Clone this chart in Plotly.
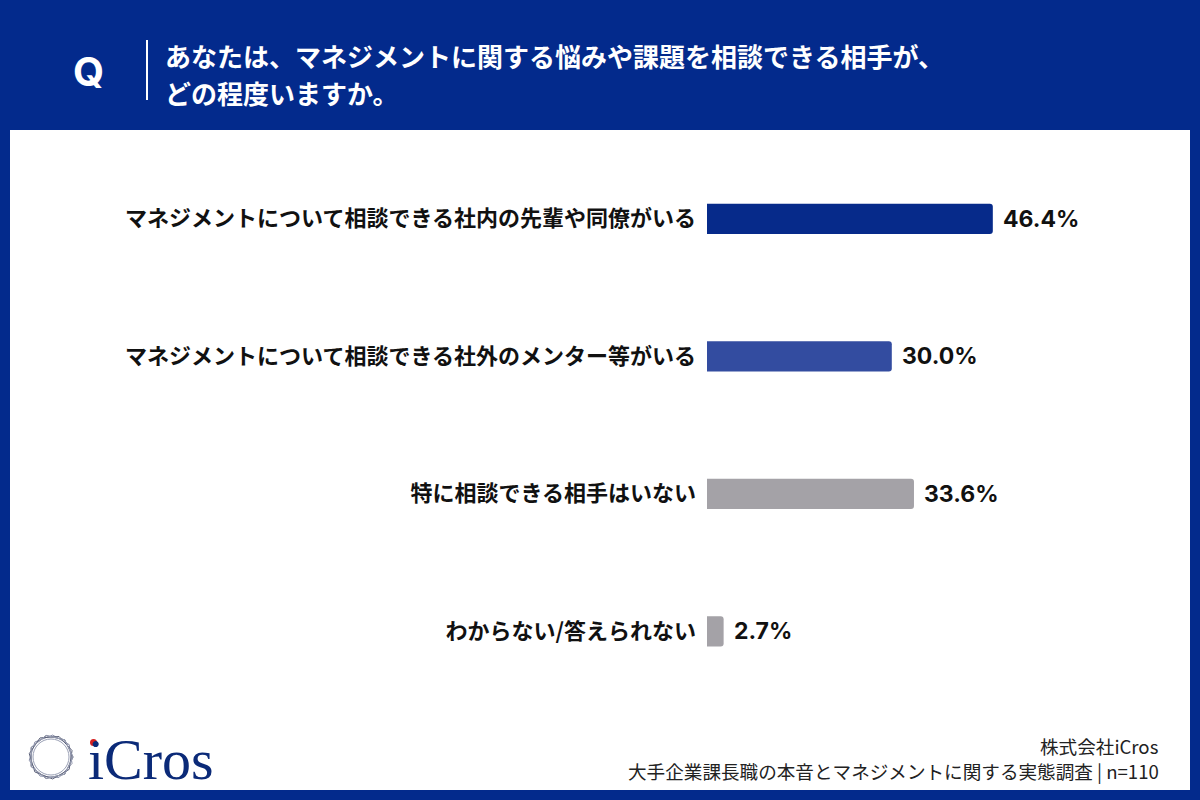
import plotly.graph_objects as go
import math

categories = [
    "マネジメントについて相談できる社内の先輩や同僚がいる",
    "マネジメントについて相談できる社外のメンター等がいる",
    "特に相談できる相手はいない",
    "わからない/答えられない",
]
values = [46.4, 30.0, 33.6, 2.7]
bar_colors = ["#062a8a", "#334ca0", "#a4a2a7", "#a4a2a7"]
value_labels = ["46.4%", "30.0%", "33.6%", "2.7%"]

question_lines = ["あなたは、マネジメントに関する悩みや課題を相談できる相手が、", "どの程度いますか。"]
source_lines = ["株式会社iCros", "大手企業課長職の本音とマネジメントに関する実態調査 | n=110"]

NAVY = "#032a8c"
W, H = 1200, 800
L, R, T, B = 707, 123, 150, 100
PW, PH = W - L - R, H - T - B


def px(x):
    return (x - L) / PW


def py(y):
    return (H - B - y) / PH


JP = "Noto Sans CJK JP"

fig = go.Figure()
fig.add_trace(go.Bar(
    y=categories,
    x=values,
    orientation="h",
    marker=dict(color=bar_colors, cornerradius=3, line=dict(width=0)),
    width=0.22,
    cliponaxis=False,
    hoverinfo="skip",
))

shapes = []
shapes.append(dict(type="rect", xref="paper", yref="paper",
                   x0=px(10), x1=px(1190), y0=py(790), y1=py(130),
                   fillcolor="white", line=dict(width=0), layer="below"))
shapes.append(dict(type="line", xref="paper", yref="paper",
                   x0=px(147), x1=px(147), y0=py(100), y1=py(40),
                   line=dict(color="white", width=2)))
cx, cy, rad = 51, 757, 22
for k, rot in enumerate([0, 0.3, 0.6, 0.9]):
    pts = []
    for i in range(7):
        a = rot + 2 * math.pi * i / 7
        pts.append((cx + rad * math.cos(a), cy + rad * math.sin(a)))
    path = "M " + " L ".join(f"{px(x):.5f},{py(y):.5f}" for x, y in pts) + " Z"
    shapes.append(dict(type="path", xref="paper", yref="paper", path=path,
                       line=dict(color=["#4a4f63", "#8a8fa8", "#5a6078", "#9aa0b5"][k], width=1)))
shapes.append(dict(type="circle", xref="paper", yref="paper",
                   x0=px(cx - 18), x1=px(cx + 18), y0=py(cy + 18), y1=py(cy - 18),
                   line=dict(color="#9aa0b5", width=1)))
shapes.append(dict(type="circle", xref="paper", yref="paper",
                   x0=px(90), x1=px(97), y0=py(746), y1=py(739),
                   fillcolor="#d42020", line=dict(width=0)))

annotations = [
    dict(text="<b>Q</b>", x=px(88), y=py(72), xref="paper", yref="paper",
         showarrow=False, xanchor="center", yanchor="middle",
         font=dict(family="Inter, Arial, sans-serif", size=40, color="white")),
    dict(text=question_lines[0], x=px(163), y=py(55), xref="paper", yref="paper",
         showarrow=False, xanchor="left", yanchor="middle",
         font=dict(family=JP, size=26, color="white", weight="bold")),
    dict(text=question_lines[1], x=px(163), y=py(92), xref="paper", yref="paper",
         showarrow=False, xanchor="left", yanchor="middle",
         font=dict(family=JP, size=26, color="white", weight="bold")),
    dict(text="iCros", x=px(86), y=py(759), xref="paper", yref="paper",
         showarrow=False, xanchor="left", yanchor="middle",
         font=dict(family="Liberation Serif, DejaVu Serif, serif", size=58, color="#0b2a78")),
    dict(text=source_lines[0], x=px(1161), y=py(745), xref="paper", yref="paper",
         showarrow=False, xanchor="right", yanchor="middle",
         font=dict(family=JP, size=18.6, color="#222222")),
    dict(text=source_lines[1], x=px(1161), y=py(770), xref="paper", yref="paper",
         showarrow=False, xanchor="right", yanchor="middle",
         font=dict(family=JP, size=18.6, color="#222222")),
]
for cat, v, lab in zip(categories, values, value_labels):
    annotations.append(dict(text=lab, x=v, y=cat, xref="x", yref="y",
                            showarrow=False, xanchor="left", yanchor="middle", xshift=8,
                            font=dict(family="Inter, Lato, sans-serif", size=23,
                                      color="#111111", weight="bold")))

fig.update_layout(
    width=W, height=H,
    margin=dict(l=L, r=R, t=T, b=B, pad=0),
    paper_bgcolor=NAVY,
    plot_bgcolor="rgba(0,0,0,0)",
    showlegend=False,
    shapes=shapes,
    annotations=annotations,
    xaxis=dict(range=[0, PW / 6.16], visible=False, fixedrange=True),
    yaxis=dict(autorange="reversed", showgrid=False, zeroline=False, showline=False,
               ticks="", ticklabelstandoff=10,
               tickfont=dict(family=JP, size=22, color="#111111", weight="bold"),
               fixedrange=True),
)

fig.write_html("out.html")
